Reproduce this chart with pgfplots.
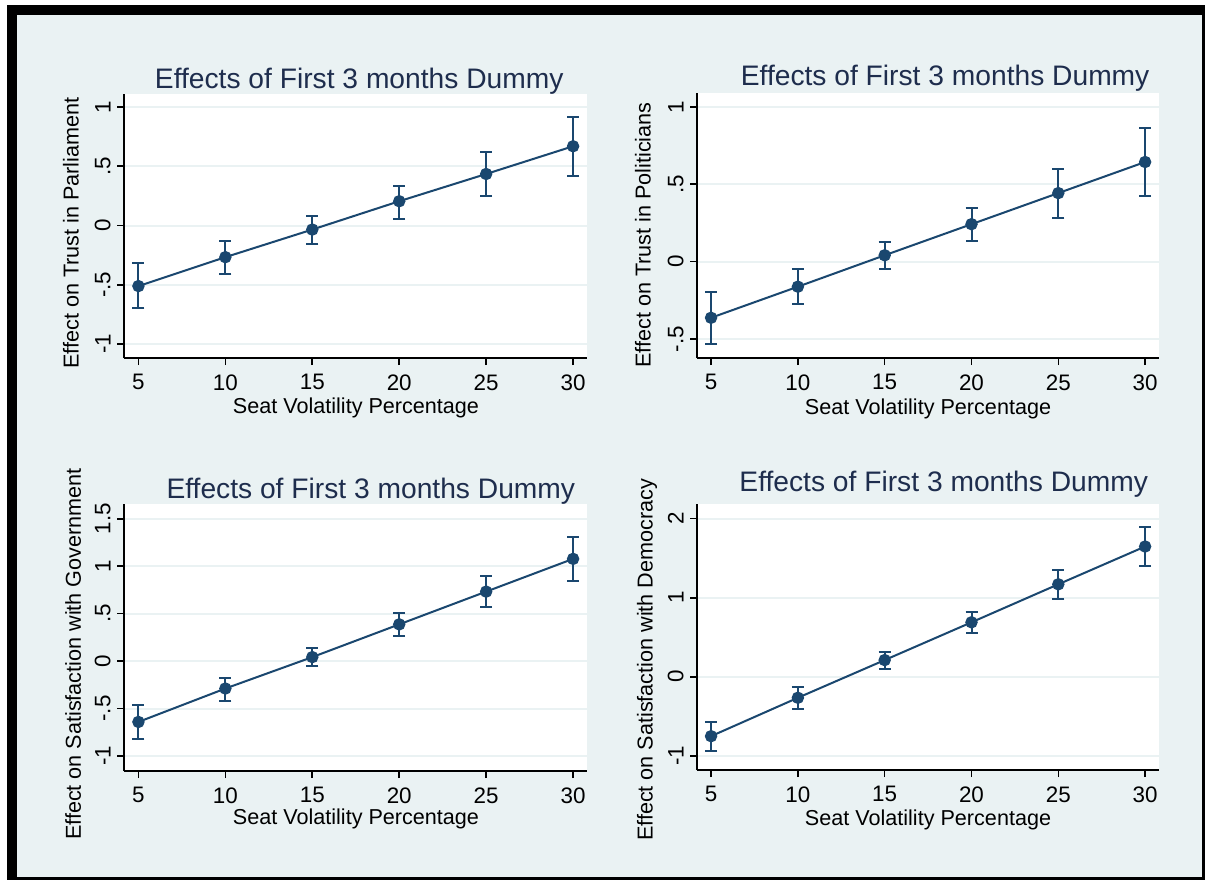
\documentclass[border=0pt]{standalone}
\usepackage{fontspec}
\setmainfont{Liberation Sans}
\usepackage{pgfplots}
\pgfplotsset{compat=1.18}
\usepackage{pgfplotstable}
\definecolor{bgc}{HTML}{EAF2F3}
\definecolor{navyc}{HTML}{1A476F}
\definecolor{titc}{HTML}{1E2D4D}

\pgfplotstableread{
x y lo hi
5 -0.511 -0.700 -0.320
10 -0.267 -0.413 -0.132
15 -0.034 -0.160 0.079
20 0.205 0.059 0.334
25 0.435 0.247 0.618
30 0.669 0.416 0.919
}\dataA
\pgfplotstableread{
x y lo hi
5 -0.363 -0.533 -0.194
10 -0.162 -0.276 -0.045
15 0.041 -0.048 0.125
20 0.242 0.134 0.348
25 0.443 0.281 0.598
30 0.644 0.425 0.866
}\dataB
\pgfplotstableread{
x y lo hi
5 -0.641 -0.817 -0.465
10 -0.289 -0.419 -0.173
15 0.042 -0.049 0.134
20 0.387 0.268 0.504
25 0.732 0.567 0.898
30 1.077 0.842 1.303
}\dataC
\pgfplotstableread{
x y lo hi
5 -0.752 -0.938 -0.570
10 -0.266 -0.410 -0.135
15 0.211 0.093 0.317
20 0.689 0.553 0.815
25 1.170 0.980 1.348
30 1.648 1.403 1.893
}\dataD

\pgfplotsset{
  stata/.style={
    scale only axis,
    anchor=south west,
    axis x line*=bottom, axis y line*=left,
    axis line style={black, line width=0.8pt},
    axis background/.style={fill=white},
    tick align=outside,
    major tick length=3.5pt,
    every tick/.style={black, line width=0.8pt},
    xtick={5,10,15,20,25,30},
    xticklabels={5,10,15,20,25,30},
    ymajorgrids,
    grid style={bgc, line width=1pt},
    ticklabel style={font=\fontsize{11.2}{13}\selectfont},
    yticklabel style={rotate=90, anchor=south, inner sep=3pt},
    xticklabel style={anchor=north, inner sep=2pt, yshift=-2.5pt},
    every axis title shift=0pt,
    title style={font=\fontsize{14.1}{16}\selectfont, color=titc, anchor=base, inner sep=0pt},
    xlabel style={font=\fontsize{10.8}{13}\selectfont, anchor=base, inner sep=0pt},
    ylabel style={font=\fontsize{10.8}{13}\selectfont, rotate=0, anchor=center, inner sep=0pt},
    clip=false,
  },
  cibars/.style={
    only marks, mark=none, navyc, line width=1pt, forget plot,
    error bars/.cd, y dir=both, y explicit,
    error mark=-,
    error bar style={line width=1pt, navyc},
    error mark options={rotate=90, line width=1pt, mark size=3pt, navyc},
  },
  mainline/.style={
    navyc, line width=1pt, mark=*, mark size=2.6pt,
    mark options={fill=navyc, draw=navyc},
  },
}

\begin{document}
\begin{tikzpicture}
\fill[white] (0pt,0pt) rectangle (602.5pt,440pt);
\fill[black] (3.5pt,0pt) rectangle (602.5pt,437.5pt);
\fill[bgc] (8.5pt,1.5pt) rectangle (601pt,432.5pt);

% Panel 1
\begin{axis}[stata, at={(62pt,261pt)}, width=231.5pt, height=132pt,
  xmin=4.17, xmax=30.8, ymin=-1.118, ymax=1.11,
  ytick={-1,-0.5,0,0.5,1}, yticklabels={-1,-.5,0,.5,1},
  title={Effects of First 3 months Dummy},
  title style={at={(axis description cs:0.508,1.019)}},
  xlabel={Seat Volatility Percentage},
  xlabel style={at={(axis description cs:0.501,-0.212)}},
  ylabel={Effect on Trust in Parliament},
  ylabel style={at={(axis description cs:-0.1145,0.473)}},
]
\addplot[cibars] table[x=x, y=y, y error plus expr=\thisrow{hi}-\thisrow{y}, y error minus expr=\thisrow{y}-\thisrow{lo}] {\dataA};
\addplot[mainline] table[x=x, y=y] {\dataA};
\end{axis}

% Panel 2
\begin{axis}[stata, at={(348.5pt,261pt)}, width=231pt, height=132.5pt,
  xmin=4.19, xmax=30.8, ymin=-0.623, ymax=1.09,
  ytick={-0.5,0,0.5,1}, yticklabels={-.5,0,.5,1},
  title={Effects of First 3 months Dummy},
  title style={at={(axis description cs:0.537,1.030)}},
  xlabel={Seat Volatility Percentage},
  xlabel style={at={(axis description cs:0.50,-0.212)}},
  ylabel={Effect on Trust in Politicians},
  ylabel style={at={(axis description cs:-0.117,0.464)}},
]
\addplot[cibars] table[x=x, y=y, y error plus expr=\thisrow{hi}-\thisrow{y}, y error minus expr=\thisrow{y}-\thisrow{lo}] {\dataB};
\addplot[mainline] table[x=x, y=y] {\dataB};
\end{axis}

% Panel 3
\begin{axis}[stata, at={(62pt,54.5pt)}, width=231.5pt, height=133.5pt,
  xmin=4.17, xmax=30.8, ymin=-1.158, ymax=1.655,
  ytick={-1,-0.5,0,0.5,1,1.5}, yticklabels={-1,-.5,0,.5,1,1.5},
  title={Effects of First 3 months Dummy},
  title style={at={(axis description cs:0.533,1.022)}},
  xlabel={Seat Volatility Percentage},
  xlabel style={at={(axis description cs:0.501,-0.202)}},
  ylabel={Effect on Satisfaction with Government},
  ylabel style={at={(axis description cs:-0.110,0.438)}},
]
\addplot[cibars] table[x=x, y=y, y error plus expr=\thisrow{hi}-\thisrow{y}, y error minus expr=\thisrow{y}-\thisrow{lo}] {\dataC};
\addplot[mainline] table[x=x, y=y] {\dataC};
\end{axis}

% Panel 4
\begin{axis}[stata, at={(348.5pt,55pt)}, width=231pt, height=133pt,
  xmin=4.19, xmax=30.8, ymin=-1.18, ymax=2.186,
  ytick={-1,0,1,2}, yticklabels={-1,0,1,2},
  title={Effects of First 3 months Dummy},
  title style={at={(axis description cs:0.534,1.046)}},
  xlabel={Seat Volatility Percentage},
  xlabel style={at={(axis description cs:0.50,-0.207)}},
  ylabel={Effect on Satisfaction with Democracy},
  ylabel style={at={(axis description cs:-0.108,0.414)}},
]
\addplot[cibars] table[x=x, y=y, y error plus expr=\thisrow{hi}-\thisrow{y}, y error minus expr=\thisrow{y}-\thisrow{lo}] {\dataD};
\addplot[mainline] table[x=x, y=y] {\dataD};
\end{axis}
\end{tikzpicture}
\end{document}
